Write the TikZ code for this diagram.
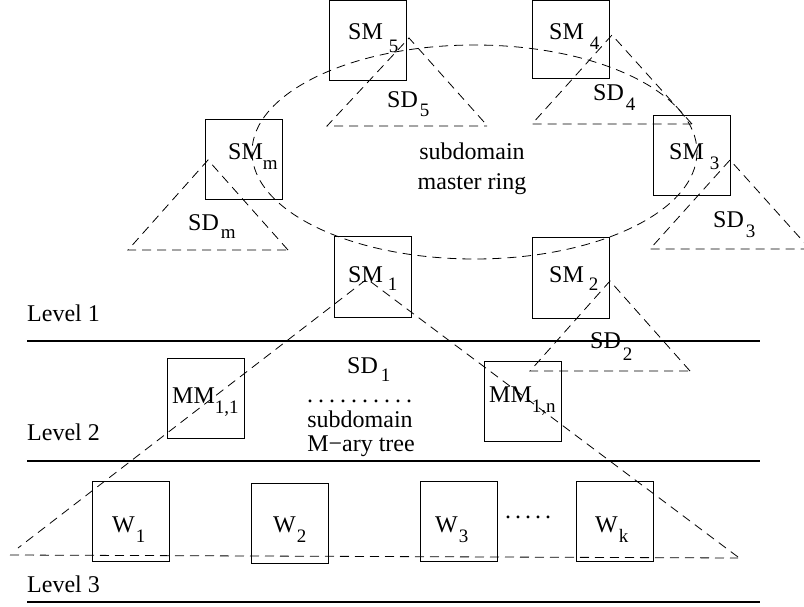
\documentclass[tikz,border=0pt]{standalone}
\usepackage{fontspec}
\setmainfont{Liberation Serif}
\newcommand{\lbsub}[3]{\hspace{#1}\raisebox{-#2}{\fontsize{19}{19}\selectfont #3}}
\tikzset{
  box/.style={draw, line width=1pt, minimum width=77pt, minimum height=80pt, inner sep=0pt},
  lbl/.style={anchor=base west, inner sep=0pt, font=\fontsize{24}{28}\selectfont},
  ctr/.style={anchor=base, inner sep=0pt, font=\fontsize{24}{28}\selectfont},
  dsh/.style={dash pattern=on 9pt off 6pt, line width=0.8pt},
  levelline/.style={line width=1.8pt}
}
\begin{document}
\begin{tikzpicture}[x=1pt,y=-1pt]
\useasboundingbox (0,0) rectangle (804,607);
% boxes
\node[box] (sm5) at (368,40.5) {};
\node[box, minimum height=78pt] (sm4) at (570.5,39.5) {};
\node[box] (sm3) at (691.5,156) {};
\node[box] (smm) at (244,160) {};
\node[box] (sm1) at (372.5,277) {};
\node[box] (sm2) at (571,278) {};
\node[box] (mm11) at (205.5,398.5) {};
\node[box] (mm1n) at (522.5,401) {};
\node[box] (w1) at (131,521.5) {};
\node[box] (w2) at (289.5,523) {};
\node[box] (w3) at (458.5,521.5) {};
\node[box] (wk) at (615,521.5) {};
% labels
\node[lbl] (tsm5) at (348,40) {SM\lbsub{6pt}{13pt}{5}};
\node[lbl] (tsm4) at (549,40) {SM\lbsub{6pt}{10pt}{4}};
\node[lbl] (tsm3) at (669,160) {SM\lbsub{6pt}{10pt}{3}};
\node[lbl] (tsmm) at (228,160) {SM\lbsub{0pt}{10pt}{m}};
\node[lbl] (tsm1) at (348,282) {SM\lbsub{5pt}{9pt}{1}};
\node[lbl] (tsm2) at (549,282) {SM\lbsub{5pt}{9pt}{2}};
\node[lbl] (tsd5) at (387,108) {SD\lbsub{2pt}{9pt}{5}};
\node[lbl] (tsd4) at (593,101) {SD\lbsub{2pt}{10pt}{4}};
\node[lbl] (tsd3) at (713,227) {SD\lbsub{2pt}{10pt}{3}};
\node[lbl] (tsdm) at (188,230) {SD\lbsub{2pt}{9pt}{m}};
\node[lbl] (tsd2) at (590,348) {SD\lbsub{2pt}{12pt}{2}};
\node[lbl] (tsd1) at (347,373) {SD\lbsub{3pt}{8pt}{1}};
\node[lbl] (tmm11) at (172,403) {MM\lbsub{0pt}{10pt}{1,1}};
\node[lbl] (tmm1n) at (489,402) {MM\lbsub{0pt}{10pt}{1,n}};
\node[lbl] (tw1) at (112,532) {W\lbsub{1pt}{10pt}{1}};
\node[lbl] (tw2) at (273,532) {W\lbsub{1pt}{10pt}{2}};
\node[lbl] (tw3) at (435,532) {W\lbsub{1pt}{10pt}{3}};
\node[lbl] (twk) at (595,532) {W\lbsub{1pt}{10pt}{k}};
\node[ctr] (ring1) at (472,160) {subdomain};
\node[ctr] (ring2) at (472,190) {master ring};
\node[ctr] (tree1) at (360,427) {subdomain};
\node[ctr] (tree2) at (361,451) {M\textminus ary tree};
\node[lbl] (dots1) at (307,402) {.\hspace{5pt}.\hspace{5pt}.\hspace{5pt}.\hspace{5pt}.\hspace{5pt}.\hspace{5pt}.\hspace{5pt}.\hspace{5pt}.\hspace{5pt}.};
\node[lbl] (dots2) at (505,518) {.\hspace{4pt}.\hspace{4pt}.\hspace{4pt}.\hspace{4pt}.};
\node[lbl] (lev1) at (27,321) {Level 1};
\node[lbl] (lev2) at (27,440) {Level 2};
\node[lbl] (lev3) at (27,592) {Level 3};
% level lines
\draw[levelline] (27,341) -- (760,341);
\draw[levelline] (27,461) -- (760,461);
\draw[levelline] (27,602) -- (760,602);
% ring
\draw[dsh] (474.5,152) ellipse [x radius=222.5, y radius=107];
% subdomain triangles
\draw[dsh] (484,122) -- (409,38) -- (327,126) -- (487,126);
\draw[dsh] (692,124) -- (612,35) -- (532,124) -- (692,124);
\draw[dsh] (810,249) -- (730,160) -- (650,249) -- (810,249);
\draw[dsh] (288,250) -- (208,160) -- (128,250) -- (288,250);
\draw[dsh] (690,371) -- (610,281) -- (530,371) -- (690,371);
\draw[dsh] (738,557) -- (367,279) -- (18,548);
\draw[dsh] (10,555) -- (738,558);
\end{tikzpicture}
\end{document}
